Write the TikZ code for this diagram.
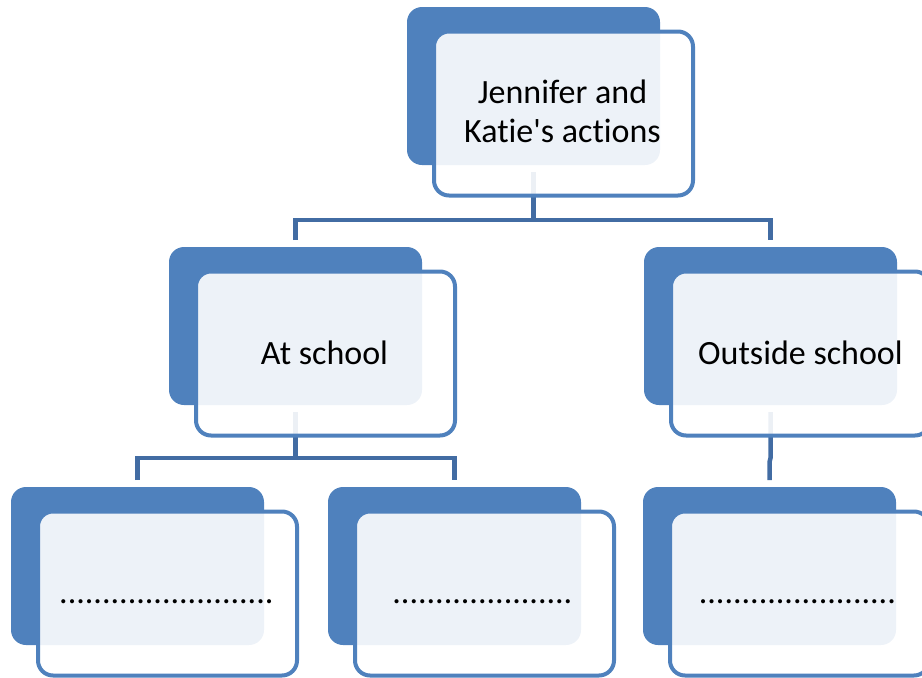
\documentclass[tikz,border=0pt]{standalone}
\usepackage{fontspec}
\setmainfont{Carlito}[Ligatures={TeXOff,NoCommon}]
\usetikzlibrary{calc}
\definecolor{accent}{RGB}{79,129,189}
\definecolor{linkc}{RGB}{66,108,163}
\begin{document}
\begin{tikzpicture}[x=1pt,y=-1pt,
 backbox/.style={fill=accent, draw=none, rounded corners=15pt, minimum width=253pt, minimum height=158pt, inner sep=0pt, outer sep=0pt, anchor=north west},
 frontbox/.style={fill=white, fill opacity=0.9, draw=accent, draw opacity=1, line width=4pt, rounded corners=15pt, minimum width=259pt, minimum height=164pt, inner sep=0pt, outer sep=0pt},
 txt/.style={inner sep=0pt, font=\fontsize{34}{38.4}\selectfont, align=center, text=black},
 link/.style={draw=linkc, line width=4.5pt}]
\useasboundingbox (0,0) rectangle (922,678);
% back boxes
\node[backbox] (tb) at (407,7) {};
\node[backbox] (mlb) at (169,247) {};
\node[backbox] (rb) at (644,247) {};
\node[backbox] (blb) at (11,487) {};
\node[backbox] (bmb) at (328,487) {};
\node[backbox] (brb) at (643,487) {};
% connectors
\draw[link] ($(tb.south)+(0,7)$) -- ($(tb.south)+(0,55)$);
\draw[link] ($(mlb.north)+(0,-7)$) |- ($(rb.north)+(0,-27)$) -- ($(rb.north)+(0,-7)$);
\draw[link] ($(mlb.south)+(0,7)$) -- ($(mlb.south)+(0,53)$);
\draw[link] ($(blb.north)+(0,-7)$) |- ($(bmb.north)+(0,-29)$) -- ($(bmb.north)+(0,-7)$);
\draw[link] ($(rb.south)+(0,7)$) -- ($(rb.south)+(0,53)$) -- ($(brb.north)+(0,-25)$) -- ($(brb.north)+(0,-7)$);
% front boxes
\node[frontbox] (tf) at (563.5,113.5) {};
\node[frontbox] (mlf) at (325.5,353.5) {};
\node[frontbox] (rf) at (800.5,353.5) {};
\node[frontbox] (blf) at (167.5,593.5) {};
\node[frontbox] (bmf) at (484.5,593.5) {};
\node[frontbox] (brf) at (799.5,593.5) {};
% texts
\node[txt] (tt) at ($(tf.center)+(-1,2)$) {\strut Jennifer and\\\strut Katie's actions};
\node[txt] (mlt) at ($(mlf.center)+(-1,3)$) {\strut At school};
\node[txt] (rt) at ($(rf.center)+(0,3)$) {\strut Outside school};
\node[txt] (blt) at ($(blf.center)+(-1,2)$) {\strut .........................};
\node[txt] (bmt) at ($(bmf.center)+(-2,2)$) {\strut .....................};
\node[txt] (brt) at ($(brf.center)+(-2,2)$) {\strut .......................};
\end{tikzpicture}
\end{document}
